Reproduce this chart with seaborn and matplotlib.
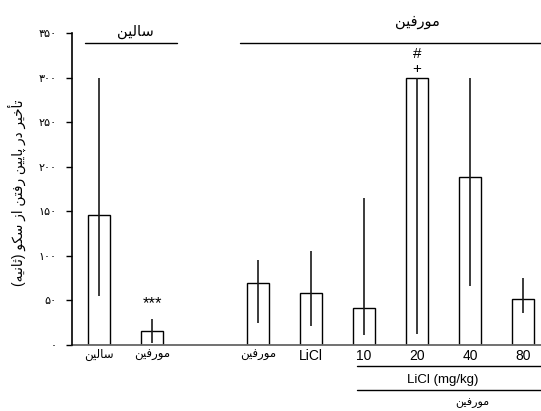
import matplotlib
matplotlib.use('Agg')
import matplotlib.pyplot as plt
import matplotlib.transforms as mtransforms
import pandas as pd
import seaborn as sns

# Persian words are written already shaped (presentation forms) and in visual order,
# matplotlib does no arabic shaping / bidi on its own
SALINE = '\ufeb3\ufe8e\ufedf\ufef4\ufee6'[::-1]           # سالین
MORPHINE = '\ufee3\ufeee\ufead\ufed3\ufef4\ufee6'[::-1]   # مورفین
Y_LABEL = '(\ufeea\ufef4\ufee7\ufe8e\ufe9b) \ufeee\ufb91\ufeb3 \ufeaf\ufe8d \ufee6\ufe98\ufed3\ufead ' \
          '\ufee6\ufef4\ufef3\ufe8e\ufb58 \ufead\ufea9 \ufeae\ufef4\ufea7\ufe84\ufe97'   # تأخیر در پایین رفتن از سکو (ثانیه)

# data
positions = [0, 1, 3, 4, 5, 6, 7, 8]
groups = [SALINE, MORPHINE, MORPHINE, 'LiCl', '10', '20', '40', '80']
latency = [146, 16, 70, 58, 41, 300, 189, 52]
err_low = [91, 13.5, 45, 37, 30, 288, 123, 16]
err_high = [154, 13, 25, 48, 124, 0, 111, 23]

y_ticks = [0, 50, 100, 150, 200, 250, 300, 350]
y_tick_labels = ['\u06f0', '\u06f5\u06f0', '\u06f1\u06f0\u06f0', '\u06f1\u06f5\u06f0',
                 '\u06f2\u06f0\u06f0', '\u06f2\u06f5\u06f0', '\u06f3\u06f0\u06f0', '\u06f3\u06f5\u06f0']

df = pd.DataFrame({'pos': positions, 'latency': latency})

sns.set_style('white')
plt.rcParams['font.family'] = ['Liberation Sans', 'DejaVu Sans']
plt.rcParams['text.color'] = 'black'
plt.rcParams['xtick.color'] = 'black'
plt.rcParams['ytick.color'] = 'black'

fig = plt.figure(figsize=(5.41, 4.11), dpi=100)
ax = fig.add_axes([72 / 541, 1 - 345 / 411, 469 / 541, 312 / 411])

sns.barplot(data=df, x='pos', y='latency', native_scale=True, width=0.42,
            color='white', edgecolor='black', linewidth=1.0, errorbar=None, ax=ax)
ax.errorbar(positions, latency, yerr=[err_low, err_high], fmt='none',
            ecolor='#1a1a1a', elinewidth=1.2, capsize=0)

ax.set_xlim(-0.51, 8.34)
ax.set_ylim(0, 350)
ax.set_xlabel('')
ax.set_ylabel('')

# axes look
for s in ['top', 'right', 'bottom']:
    ax.spines[s].set_visible(False)
ax.spines['left'].set_color('black')
ax.spines['left'].set_linewidth(1.2)
ax.axhline(0, color='#666666', lw=1.3, clip_on=False)

ax.set_yticks(y_ticks)
ax.set_yticklabels(y_tick_labels, fontsize=8)
ax.tick_params(axis='y', left=True, length=4, width=1, pad=7)
ax.set_xticks(positions)
ax.set_xticklabels(groups)
ax.tick_params(axis='x', bottom=False, length=0, pad=3)
for lab in ax.get_xticklabels():
    # latin labels are printed bigger than the persian ones
    lab.set_fontsize(8.5 if lab.get_text() in (SALINE, MORPHINE) else 10)

# significance marks
ax.text(1, 46, '***', ha='center', va='center', fontsize=12)
ax.text(6, 326, '#', ha='center', va='center', fontsize=11)
ax.text(6, 310, '+', ha='center', va='center', fontsize=11)

# group brackets above and below
trans = mtransforms.blended_transform_factory(ax.transData, ax.transAxes)
ax.plot([-0.26, 1.47], [0.968, 0.968], color='black', lw=1, transform=trans, clip_on=False)
ax.plot([2.66, 8.34], [0.968, 0.968], color='black', lw=1, transform=trans, clip_on=False)
ax.text(0.68, 1.003, SALINE, ha='center', va='center', fontsize=10.5, transform=trans)
ax.text(6.0, 1.035, MORPHINE, ha='center', va='center', fontsize=10.5, transform=trans)

ax.plot([4.87, 8.34], [-0.067, -0.067], color='black', lw=1, transform=trans, clip_on=False)
ax.plot([4.87, 8.34], [-0.144, -0.144], color='black', lw=1, transform=trans, clip_on=False)
ax.text(6.49, -0.113, 'LiCl (mg/kg)', ha='center', va='center', fontsize=9.5, transform=trans)
ax.text(7.05, -0.186, MORPHINE, ha='center', va='center', fontsize=8, transform=trans)

fig.text(17 / 541, 1 - 193 / 411, Y_LABEL, rotation=90, ha='center', va='center', fontsize=9.8)

fig.savefig('out.png', dpi=100)
